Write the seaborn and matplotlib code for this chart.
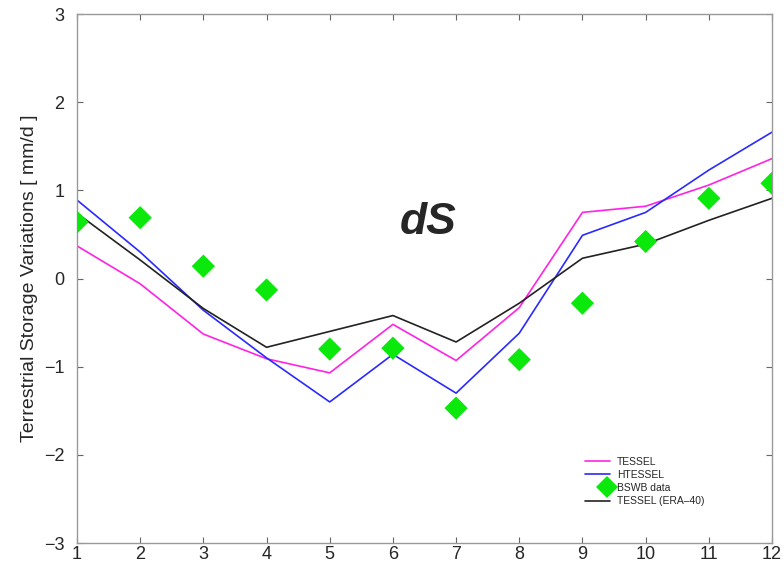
import numpy as np
import pandas as pd
import matplotlib
matplotlib.use("Agg")
import matplotlib.pyplot as plt
import seaborn as sns
from matplotlib.legend_handler import HandlerLine2DCompound
from matplotlib.lines import Line2D

months = [1, 2, 3, 4, 5, 6, 7, 8, 9, 10, 11, 12]
tessel = [0.37, -0.06, -0.63, -0.91, -1.07, -0.52, -0.93, -0.33, 0.75, 0.82, 1.06, 1.36]
htessel = [0.89, 0.30, -0.36, -0.90, -1.40, -0.86, -1.30, -0.62, 0.49, 0.75, 1.23, 1.66]
bswb = [0.64, 0.69, 0.14, -0.13, -0.80, -0.79, -1.47, -0.92, -0.28, 0.42, 0.91, 1.08]
tessel_era40 = [0.74, 0.21, -0.34, -0.78, -0.60, -0.42, -0.72, -0.28, 0.23, 0.39, 0.66, 0.91]

series_names = ["TESSEL", "HTESSEL", "TESSEL (ERA\u201340)"]
series_values = [tessel, htessel, tessel_era40]
series_colors = ["#ff22e6", "#2a2aff", "#222222"]
obs_color = "#0be80b"

lines_df = pd.DataFrame({
    "month": months * 3,
    "value": sum(series_values, []),
    "model": sum([[n] * len(months) for n in series_names], []),
})
obs_df = pd.DataFrame({"month": months, "value": bswb})

sns.set_style("ticks")
plt.rcParams["font.family"] = ["Liberation Sans", "DejaVu Sans"]

fig = plt.figure(figsize=(7.84, 5.65), dpi=100)
ax = fig.add_axes([0.0982, 0.0389, 0.8865, 0.9363])

sns.lineplot(data=lines_df, x="month", y="value", hue="model",
             palette=dict(zip(series_names, series_colors)),
             hue_order=series_names, linewidth=1.2, ax=ax, legend=False)
sns.scatterplot(data=obs_df, x="month", y="value", marker="D", s=140,
                color=obs_color, edgecolor="none", ax=ax, zorder=3)

ax.set_xlim(1, 12)
ax.set_ylim(-3, 3)
ax.set_xticks(months)
ax.set_yticks([-3, -2, -1, 0, 1, 2, 3])
ax.set_yticklabels(["\u22123", "\u22122", "\u22121", "0", "1", "2", "3"])
ax.set_xlabel("")
ax.set_ylabel("Terrestrial Storage Variations [ mm/d ]", fontsize=14, labelpad=4)
ax.tick_params(axis="both", direction="in", length=4, width=0.8, color="#666666",
               labelsize=13, top=True, right=True)
ax.tick_params(axis="x", pad=2)
ax.tick_params(axis="y", pad=9)
for sp in ax.spines.values():
    sp.set_visible(True)
    sp.set_color("#999999")
    sp.set_linewidth(1.0)

ax.text(6.55, 0.63, "dS", fontsize=32, fontweight="bold", fontstyle="italic",
        ha="center", va="center")


class RightMarkerHandler(HandlerLine2DCompound):
    """Line handler whose single marker sits near the right end of the handle."""

    def get_xdata(self, legend, xdescent, ydescent, width, height, fontsize):
        xdata, _ = super().get_xdata(legend, xdescent, ydescent, width, height, fontsize)
        return xdata, np.array([width - xdescent - 0.12 * width])


handles = [
    Line2D([], [], color=series_colors[0], lw=1.2),
    Line2D([], [], color=series_colors[1], lw=1.2),
    Line2D([], [], color=obs_color, marker="D", ls="none", markersize=11, markeredgewidth=0),
    Line2D([], [], color=series_colors[2], lw=1.2),
]
labels = ["TESSEL", "HTESSEL", "BSWB data", series_names[2]]
ax.legend(handles, labels, loc="upper left", bbox_to_anchor=(0.731, 0.163),
          frameon=False, fontsize=7.5, handlelength=2.4, handletextpad=0.65,
          labelspacing=0.3, borderaxespad=0, borderpad=0,
          handler_map={handles[2]: RightMarkerHandler(numpoints=1)})

fig.savefig("out.png", dpi=100)
